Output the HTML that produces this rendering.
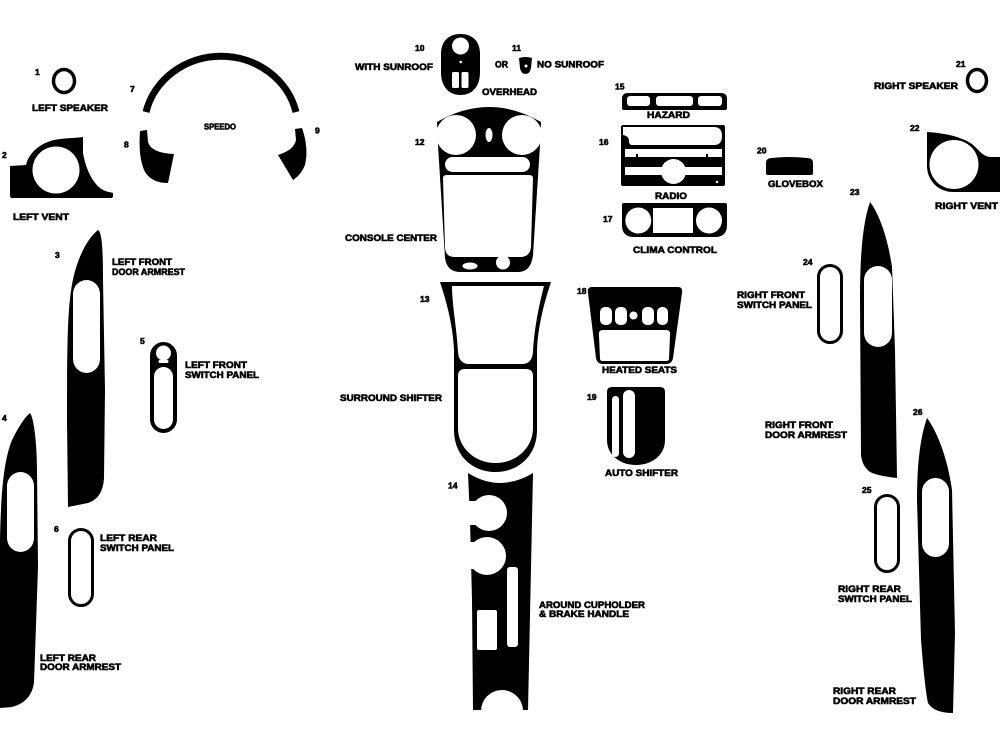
<!DOCTYPE html>
<html><head><meta charset="utf-8"><style>
html,body{margin:0;padding:0;background:#fff;width:1000px;height:750px;overflow:hidden}
svg{display:block}
text{font-family:"Liberation Sans",Arial,sans-serif;font-weight:bold;fill:#000;stroke:#000;stroke-width:0.6}
.l{font-size:9.5px}
.n{font-size:8.5px}
.s{font-size:8.5px}
</style></head><body>
<svg width="1000" height="750" viewBox="0 0 1000 750" xmlns="http://www.w3.org/2000/svg">
<rect width="1000" height="750" fill="#fff"/>

<!-- 1 left speaker -->
<ellipse cx="64" cy="81" rx="10.5" ry="11.5" fill="none" stroke="#000" stroke-width="3.5"/>
<text class="n" x="35" y="75">1</text>
<text class="l" x="32" y="111" textLength="76" lengthAdjust="spacingAndGlyphs">LEFT SPEAKER</text>

<!-- 7 speedo arc -->
<path d="M146,112 A77,72 0 0 1 296,112" fill="none" stroke="#000" stroke-width="7"/>
<text class="n" x="130" y="92">7</text>
<text class="s" x="204" y="129.5" textLength="32" lengthAdjust="spacingAndGlyphs">SPEEDO</text>
<!-- 8 -->
<path d="M140,131 L147,130 L148,142 Q151,153 174,154 L168,183 Q152,183 145,172 Q138,158 140,131 Z" fill="#000"/>
<text class="n" x="124" y="147.5">8</text>
<!-- 9 -->
<path d="M295,129 L302,128 Q309,148 305,165 Q301,175 293,180 L278,155 Q294,150 296,140 Z" fill="#000"/>
<text class="n" x="315" y="133.5">9</text>

<!-- 2 left vent -->
<path d="M10,166 L26,165 C29,152 42,141 60,139 C68,138 76,138 83,137 L83,153 C86,170 93,184 103,190 C107,192 110,192 113,193 L113,196 Q113,198 111,198 L12,198 Q10,198 10,195 Z" fill="#000"/>
<circle cx="56" cy="170" r="23.5" fill="#fff"/>
<text class="n" x="2" y="158">2</text>
<text class="l" x="13" y="220" textLength="56" lengthAdjust="spacingAndGlyphs">LEFT VENT</text>

<!-- 3 left front door armrest -->
<path d="M98,230 C102,232 103,250 103,280 L105,390 L104,478 Q103,498 88,503 L68,507 L67,420 C67,330 68,300 74,275 C79,255 88,238 98,230 Z" fill="#000"/>
<rect x="73" y="280" width="27" height="93" rx="13.5" ry="14" fill="#fff"/>
<text class="n" x="55" y="258">3</text>
<text class="l" x="112" y="265" textLength="60" lengthAdjust="spacingAndGlyphs">LEFT FRONT</text>
<text class="l" x="112" y="275" textLength="73" lengthAdjust="spacingAndGlyphs">DOOR ARMREST</text>

<!-- 5 left front switch panel -->
<rect x="150" y="342" width="27" height="91" rx="13.5" fill="#000"/>
<circle cx="163.5" cy="353" r="7.5" fill="#fff"/>
<rect x="158.5" y="360" width="10" height="3" rx="1.5" fill="#fff"/>
<rect x="154" y="367" width="19" height="62" rx="9.5" fill="#fff"/>
<text class="n" x="140" y="344">5</text>
<text class="l" x="185" y="368" textLength="62" lengthAdjust="spacingAndGlyphs">LEFT FRONT</text>
<text class="l" x="185" y="378" textLength="74" lengthAdjust="spacingAndGlyphs">SWITCH PANEL</text>

<!-- 4 left rear door armrest -->
<path d="M30,413 C34,418 37,445 37,470 L38,567 L34,683 Q31,702 12,707 L0,708 L0,540 C1,490 4,460 12,440 C18,428 24,418 30,413 Z" fill="#000"/>
<rect x="7" y="472" width="27" height="80" rx="13.5" ry="14" fill="#fff"/>
<text class="n" x="2" y="421">4</text>
<text class="l" x="40" y="661" textLength="56" lengthAdjust="spacingAndGlyphs">LEFT REAR</text>
<text class="l" x="40" y="670" textLength="81" lengthAdjust="spacingAndGlyphs">DOOR ARMREST</text>

<!-- 6 left rear switch panel -->
<rect x="69.5" y="529.5" width="23" height="76" rx="11.5" fill="none" stroke="#000" stroke-width="3"/>
<text class="n" x="54" y="532">6</text>
<text class="l" x="100" y="541" textLength="57" lengthAdjust="spacingAndGlyphs">LEFT REAR</text>
<text class="l" x="100" y="551" textLength="74" lengthAdjust="spacingAndGlyphs">SWITCH PANEL</text>

<!-- 10 overhead with sunroof -->
<path d="M441,54 C441,40 450,34 460.5,34 C471,34 480,40 480,54 L480,72 C480,88 471,95 460.5,95 C450,95 441,88 441,72 Z" fill="#000"/>
<circle cx="460.5" cy="46" r="8.5" fill="#fff"/>
<circle cx="460.7" cy="62" r="1.3" fill="#fff"/>
<rect x="452" y="72" width="7" height="16" rx="1.5" fill="#fff"/>
<rect x="461.5" y="72" width="7" height="16" rx="1.5" fill="#fff"/>
<text class="n" x="415" y="51">10</text>
<text class="l" x="355" y="70" textLength="78" lengthAdjust="spacingAndGlyphs">WITH SUNROOF</text>
<text class="l" x="495" y="67.5" textLength="13" lengthAdjust="spacingAndGlyphs">OR</text>
<!-- 11 -->
<path d="M519,58 Q525.5,56 532,58 L531,68 Q530,74 525.5,74 Q521,74 520,68 Z" fill="#000"/>
<circle cx="526" cy="66" r="1.5" fill="#fff"/>
<text class="n" x="512" y="51">11</text>
<text class="l" x="537" y="67.5" textLength="67" lengthAdjust="spacingAndGlyphs">NO SUNROOF</text>
<text class="l" x="482" y="95" textLength="55" lengthAdjust="spacingAndGlyphs">OVERHEAD</text>

<!-- 12 console center -->
<path d="M437,122 Q489,92 541,122 L540,145 L533,255 Q531,272 518,272 L460,272 Q447,272 445,258 L438,145 Z" fill="#000"/>
<circle cx="456" cy="135" r="20" fill="#fff"/>
<circle cx="522" cy="135" r="20" fill="#fff"/>
<ellipse cx="489" cy="135" rx="3.5" ry="7" fill="#fff"/>
<rect x="445" y="157" width="85" height="15" rx="7.5" fill="#fff"/>
<path d="M443,178 Q443,175 447,175 L529,175 Q533,175 533,178 L531,247 Q530,257 520,257 L455,257 Q445,257 445,247 Z" fill="#fff"/>
<ellipse cx="470" cy="266" rx="7.5" ry="3.5" fill="#fff"/>
<circle cx="503" cy="262.5" r="7" fill="#fff"/>
<text class="n" x="415" y="145">12</text>
<text class="l" x="345" y="241" textLength="92" lengthAdjust="spacingAndGlyphs">CONSOLE CENTER</text>

<!-- 13 surround shifter -->
<path d="M440,282 L551,282 C545,300 538,325 537,350 L537,430 C537,456 518,472 495.5,472 C473,472 454,456 454,430 L454,350 C453,325 446,300 440,282 Z" fill="#000"/>
<path d="M452,286 L544,286 C539,305 534,330 533,352 Q532,364 522,364 L469,364 Q459,364 458,352 C457,330 452,305 452,286 Z" fill="#fff"/>
<path d="M465,369 L526,369 Q533,369 533,376 L533,428 C533,448 516,463 495.5,463 C475,463 458,448 458,428 L458,376 Q458,369 465,369 Z" fill="#fff"/>
<text class="n" x="420" y="302">13</text>
<text class="l" x="340" y="401" textLength="102" lengthAdjust="spacingAndGlyphs">SURROUND SHIFTER</text>

<!-- 14 around cupholder -->
<path d="M468,473 Q500,493 533,473 L528,710 L473,710 L472,600 L470,520 Z" fill="#000"/>
<circle cx="489" cy="513" r="18" fill="#fff"/>
<rect x="460" y="501" width="20" height="24" fill="#fff"/>
<circle cx="487" cy="556" r="19" fill="#fff"/>
<rect x="460" y="542" width="20" height="27" fill="#fff"/>
<circle cx="502" cy="711" r="21" fill="#fff"/>
<rect x="507" y="567" width="11" height="80" rx="3" fill="#fff"/>
<rect x="477" y="610" width="20" height="40" rx="2" fill="#fff"/>
<rect x="460" y="710" width="80" height="20" fill="#fff"/>
<text class="n" x="448" y="488.5">14</text>
<text class="l" x="539" y="608" textLength="106" lengthAdjust="spacingAndGlyphs">AROUND CUPHOLDER</text>
<text class="l" x="539" y="617" textLength="90" lengthAdjust="spacingAndGlyphs">&amp; BRAKE HANDLE</text>

<!-- 15 hazard -->
<path d="M628,93 L721,93 Q727,93 727,99 L727,108 Q727,110 725,110 L624,110 Q622,110 622,108 L622,99 Q622,93 628,93 Z" fill="#000"/>
<rect x="627" y="96" width="23" height="10" rx="3" fill="#fff"/>
<rect x="656" y="96" width="37" height="10" rx="3" fill="#fff"/>
<rect x="698" y="96" width="24" height="10" rx="3" fill="#fff"/>
<text class="n" x="615" y="89.5">15</text>
<text class="l" x="647" y="118" textLength="43" lengthAdjust="spacingAndGlyphs">HAZARD</text>

<!-- 16 radio -->
<rect x="621" y="125" width="104" height="61" rx="2" fill="#000"/>
<path d="M623,127 L714,127 Q722,127 722,136 Q722,145 714,145 L632,145 Q629,145 629,141 Q629,136 623,135 Z" fill="#fff"/>
<rect x="625" y="149" width="97" height="8" fill="#fff"/>
<rect x="636" y="154" width="2" height="5" fill="#000"/>
<rect x="706" y="154" width="2" height="5" fill="#000"/>
<rect x="625" y="167" width="97" height="8" fill="#fff"/>
<circle cx="673.5" cy="171.5" r="12.5" fill="#fff"/>
<circle cx="717" cy="182" r="1.2" fill="#fff"/>
<text class="n" x="599" y="145">16</text>
<text class="l" x="655" y="199" textLength="32" lengthAdjust="spacingAndGlyphs">RADIO</text>

<!-- 17 clima -->
<path d="M624,203 L725,203 Q727,203 727,205 L727,225 Q727,237 715,237 L634,237 Q622,237 622,225 L622,205 Q622,203 624,203 Z" fill="#000"/>
<circle cx="638.3" cy="220.5" r="13" fill="#fff"/>
<circle cx="709" cy="220.5" r="13" fill="#fff"/>
<rect x="653" y="208" width="40" height="25" fill="#fff"/>
<text class="n" x="603" y="222">17</text>
<text class="l" x="633" y="253" textLength="84" lengthAdjust="spacingAndGlyphs">CLIMA CONTROL</text>

<!-- 18 heated seats -->
<path d="M592,287 L678,287 Q683,287 682,293 L673,358 Q672,364 666,364 L603,364 Q597,364 596,358 L588,293 Q587,287 592,287 Z" fill="#000"/>
<rect x="600" y="307" width="12" height="18" rx="5" fill="#fff"/>
<rect x="615" y="307" width="12" height="18" rx="5" fill="#fff"/>
<circle cx="633.5" cy="315.5" r="4" fill="#fff"/>
<rect x="642" y="307" width="12" height="18" rx="5" fill="#fff"/>
<rect x="657" y="307" width="11" height="18" rx="5" fill="#fff"/>
<path d="M603,330 L666,330 Q671,330 670,336 L669,359 Q669,361 666,361 L603,361 Q600,361 600,359 L599,336 Q598,330 603,330 Z" fill="#fff"/>
<text class="n" x="577" y="294">18</text>
<text class="l" x="602" y="373" textLength="75" lengthAdjust="spacingAndGlyphs">HEATED SEATS</text>

<!-- 19 auto shifter -->
<path d="M612,387 L660,387 Q665,387 665,392 L665,440 C665,455 652,465 636,465 C620,465 607,455 607,440 L607,392 Q607,387 612,387 Z" fill="#000"/>
<rect x="612" y="396" width="7" height="61" rx="3.5" fill="#fff"/>
<rect x="623" y="390" width="12" height="68" rx="6" fill="#fff"/>
<text class="n" x="587" y="400">19</text>
<text class="l" x="605" y="476" textLength="73" lengthAdjust="spacingAndGlyphs">AUTO SHIFTER</text>

<!-- 20 glovebox -->
<path d="M766,163 Q766,158 772,158 Q789,156 807,158 Q813,158 813,163 L813,173 Q813,175 811,175 L768,175 Q766,175 766,173 Z" fill="#000"/>
<text class="n" x="757" y="153.5">20</text>
<text class="l" x="768" y="187" textLength="55" lengthAdjust="spacingAndGlyphs">GLOVEBOX</text>

<!-- 21 right speaker -->
<ellipse cx="977" cy="80.5" rx="9.5" ry="11" fill="none" stroke="#000" stroke-width="3.5"/>
<text class="n" x="956" y="67">21</text>
<text class="l" x="874" y="89" textLength="84" lengthAdjust="spacingAndGlyphs">RIGHT SPEAKER</text>

<!-- 22 right vent -->
<path d="M927,132 C945,133 962,137 972,144 C978,149 982,156 990,157 L1000,157 L1000,192 L953,192 C938,192 927,180 927,166 Z" fill="#000"/>
<circle cx="954" cy="164.5" r="24.5" fill="#fff"/>
<text class="n" x="910" y="131">22</text>
<text class="l" x="935" y="209" textLength="63" lengthAdjust="spacingAndGlyphs">RIGHT VENT</text>

<!-- 23 right front door armrest -->
<path d="M870,202 C880,215 888,240 892,267 L895,350 L897,478 Q878,476 870,472 Q862,466 861,455 L860,300 C860,260 862,225 870,202 Z" fill="#000"/>
<rect x="864" y="266" width="28" height="81" rx="14" fill="#fff"/>
<text class="n" x="850" y="195">23</text>
<text class="l" x="765" y="428" textLength="68" lengthAdjust="spacingAndGlyphs">RIGHT FRONT</text>
<text class="l" x="765" y="438" textLength="82" lengthAdjust="spacingAndGlyphs">DOOR ARMREST</text>

<!-- 24 right front switch panel -->
<rect x="818.5" y="265.5" width="23" height="77" rx="11.5" fill="none" stroke="#000" stroke-width="3"/>
<text class="n" x="803" y="265">24</text>
<text class="l" x="737" y="298" textLength="68" lengthAdjust="spacingAndGlyphs">RIGHT FRONT</text>
<text class="l" x="737" y="308" textLength="75" lengthAdjust="spacingAndGlyphs">SWITCH PANEL</text>

<!-- 26 right rear door armrest -->
<path d="M927,418 C936,430 947,455 952,490 L955,633 L953,713 Q934,713 928,703 Q925,690 921,640 L917,500 C917,460 921,435 927,418 Z" fill="#000"/>
<rect x="922" y="478" width="27" height="79" rx="13.5" fill="#fff"/>
<text class="n" x="913" y="415">26</text>
<text class="l" x="833" y="694" textLength="63" lengthAdjust="spacingAndGlyphs">RIGHT REAR</text>
<text class="l" x="833" y="704" textLength="83" lengthAdjust="spacingAndGlyphs">DOOR ARMREST</text>

<!-- 25 right rear switch panel -->
<rect x="875.5" y="495.5" width="23" height="76" rx="11.5" fill="none" stroke="#000" stroke-width="3"/>
<text class="n" x="862" y="493">25</text>
<text class="l" x="838" y="592" textLength="63" lengthAdjust="spacingAndGlyphs">RIGHT REAR</text>
<text class="l" x="838" y="602" textLength="74" lengthAdjust="spacingAndGlyphs">SWITCH PANEL</text>
</svg>
</body></html>
